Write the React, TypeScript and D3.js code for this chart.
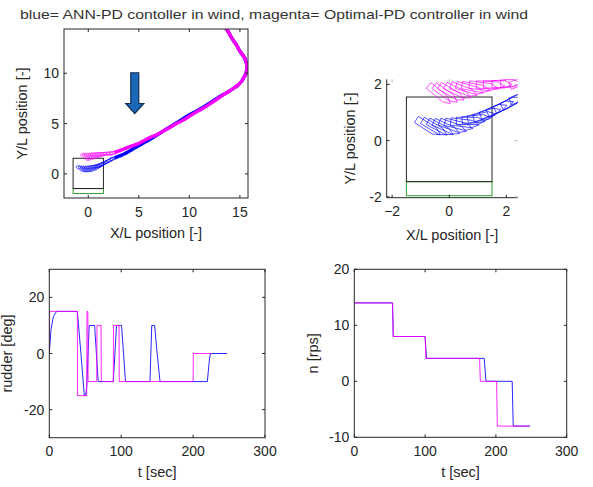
import React from 'react';
import * as d3 from 'd3';

const W = 593;
const H = 487;
const FONT = '"Liberation Sans", Arial, Helvetica, sans-serif';
const INK = '#262626';

const TITLE = 'blue= ANN-PD contoller in wind, magenta= Optimal-PD controller in wind';

// ---- trajectory data (X/L, Y/L) ----
// ship positions near the berth: centre x, centre y, heading [deg]
const blueStartX = [-0.73, -0.51, -0.3, -0.09, 0.13, 0.34, 0.55, 0.75, 0.95, 1.14, 1.33, 1.56, 1.8, 2.05, 2.29];
const blueStartY = [0.48, 0.46, 0.45, 0.46, 0.5, 0.55, 0.62, 0.7, 0.77, 0.85, 0.95, 1.07, 1.18, 1.31, 1.43];
const blueStartHead = [-33, -31, -28, -25, -20, -14, -7, 0, 6, 12, 18, 22, 25, 27, 28];
// remainder of the path
const bluePathX = [2.6, 3.1, 3.6, 4.1, 4.6, 5.1, 5.7, 6.3, 6.9, 7.5, 8.1, 8.7, 9.4, 10.0, 10.7, 11.4, 12.1, 12.7, 13.3, 13.9, 14.5, 15.0, 15.4, 15.65, 15.7, 15.55, 15.3, 15.0, 14.6, 14.2, 13.8, 13.6];
const bluePathY = [1.58, 1.78, 2.0, 2.28, 2.58, 2.86, 3.2, 3.55, 3.92, 4.3, 4.68, 5.05, 5.5, 5.86, 6.25, 6.65, 7.1, 7.48, 7.86, 8.2, 8.6, 9.0, 9.6, 10.2, 10.7, 11.3, 11.8, 12.2, 12.9, 13.5, 14.2, 14.5];

const magStartX = [-0.34, -0.12, 0.09, 0.31, 0.52, 0.73, 0.94, 1.2, 1.45, 1.7, 2.0, 2.3];
const magStartY = [1.64, 1.66, 1.7, 1.74, 1.79, 1.84, 1.88, 1.93, 1.97, 2.0, 2.03, 2.07];
const magStartHead = [-40, -36, -31, -26, -21, -16, -11, -7, -3, 0, 3, 6];
const magPathX = [2.6, 3.1, 3.6, 4.1, 4.6, 5.1, 5.7, 6.3, 6.9, 7.5, 8.1, 8.7, 9.4, 10.0, 10.7, 11.4, 12.1, 12.7, 13.3, 13.9, 14.5, 15.0, 15.4, 15.65, 15.7, 15.55, 15.3, 15.0, 14.6, 14.2, 13.8, 13.6];
const magPathY = [2.12, 2.3, 2.5, 2.7, 2.88, 3.08, 3.4, 3.7, 3.95, 4.3, 4.62, 4.98, 5.35, 5.72, 6.15, 6.55, 7.0, 7.4, 7.82, 8.2, 8.6, 9.0, 9.6, 10.2, 10.7, 11.3, 11.8, 12.2, 12.9, 13.5, 14.2, 14.5];

// berth boxes
const berthX = [-1.5, 1.5];
const berthBlackY = [-1.46, 1.55];
const berthGreenY = [-1.96, -1.46];

// annotation arrow (data units in the overview plot)
const arrowX = 4.6;
const arrowTopY = 10.05;
const arrowTipY = 6.0;

// ---- rudder [deg] ----
const rudBlueT = [0, 2.4, 5.6, 10, 39, 44, 48.7, 50.5, 52, 55.5, 63, 68, 89, 93.5, 100.5, 106, 140, 142.5, 146.5, 150, 154, 219.8, 222, 223.5, 226, 247];
const rudBlueV = [0, 8.6, 13.1, 15, 15, 0, -15, -15, -12, 10, 10, -10, -10, 10, 10, -10, -10, 10, 10, 0, -10, -10, -4, -0.5, 0, 0];
const rudMagT = [0, 0.5, 39, 39.3, 52, 52.4, 53.6, 54, 66, 66.3, 72, 72.3, 89, 89.3, 97, 97.3, 200, 200.3, 226];
const rudMagV = [0, 15, 15, -15, -15, 15, 15, -10, -10, 10, 10, -10, -10, 10, 10, -10, -10, 0, 0];

// ---- propeller n [rps] ----
const nBlueT = [0, 54, 55, 100, 102, 183.5, 186, 223, 224.5, 248];
const nBlueV = [14, 14, 8, 8, 4.1, 4.1, 0, 0, -8, -8];
const nMagT = [0, 54, 55, 100, 101, 177, 178, 201, 202, 248];
const nMagV = [14, 14, 8, 8, 4.1, 4.1, 0, 0, -8, -8];

const BLUE = '#0000ff';
const MAG = '#ff00ff';

type Box = { x0: number; x1: number; y0: number; y1: number };

function Frame({ box, xs, ys, xticks, yticks, full = true }: any) {
  const tl = 3;
  const items: any[] = [];
  const faint = '#bbbbbb';
  xticks.forEach((t: number, i: number) => {
    const x = xs(t);
    items.push(<line key={'xb' + i} x1={x} x2={x} y1={box.y1} y2={box.y1 - tl} stroke={INK} strokeWidth={1} />);
    items.push(<line key={'xt' + i} x1={x} x2={x} y1={box.y0} y2={box.y0 + tl} stroke={full ? INK : faint} strokeWidth={1} />);
    items.push(
      <text key={'xl' + i} x={x} y={box.y1 + 18.5} textAnchor="middle" fontSize={14} fill={INK} fontFamily={FONT}>
        {d3.format('d')(t)}
      </text>
    );
  });
  yticks.forEach((t: number, i: number) => {
    const y = ys(t);
    items.push(<line key={'yl' + i} x1={box.x0} x2={box.x0 + tl} y1={y} y2={y} stroke={INK} strokeWidth={1} />);
    items.push(<line key={'yr' + i} x1={box.x1} x2={box.x1 - tl} y1={y} y2={y} stroke={full ? INK : faint} strokeWidth={1} />);
    items.push(
      <text key={'yt' + i} x={box.x0 - 5} y={y + 5} textAnchor="end" fontSize={14} fill={INK} fontFamily={FONT}>
        {t < 0 ? '-' + Math.abs(t) : String(t)}
      </text>
    );
  });
  return (
    <g>
      {full ? (
        <rect x={box.x0} y={box.y0} width={box.x1 - box.x0} height={box.y1 - box.y0} fill="none" stroke={INK} strokeWidth={1} />
      ) : (
        <path d={`M${box.x0},${box.y0} V${box.y1} H${box.x1}`} fill="none" stroke={INK} strokeWidth={1} />
      )}
      {items}
    </g>
  );
}

const shipShape: [number, number][] = [
  [0.5, 0],
  [0.25, 0.13],
  [-0.5, 0.13],
  [-0.5, -0.13],
  [0.25, -0.13],
];

function shipsFor(sx: number[], sy: number[], sh: number[], px: number[], py: number[]) {
  const pts: { x: number; y: number; h: number }[] = [];
  sx.forEach((x, i) => pts.push({ x, y: sy[i], h: (sh[i] * Math.PI) / 180 }));
  px.forEach((x, i) => {
    const a = i > 0 ? i - 1 : i;
    const b = i < px.length - 1 ? i + 1 : i;
    const h = Math.atan2(py[b] - py[a], px[b] - px[a]);
    pts.push({ x, y: py[i], h });
  });
  return pts;
}

function Trajectory({ xs, ys, sx, sy, sh, px, py, color, lineW, shipW }: any) {
  const ships = shipsFor(sx, sy, sh, px, py);
  const line = d3
    .line<number>()
    .x((_, i) => xs(px[i]))
    .y((_, i) => ys(py[i]))
    .curve(d3.curveCatmullRom);
  return (
    <g>
      <path d={line(px) || ''} fill="none" stroke={color} strokeWidth={lineW} strokeLinejoin="round" />
      {ships.map((s, i) => {
        const c = Math.cos(s.h);
        const n = Math.sin(s.h);
        const pts = shipShape
          .map(([u, v]) => {
            const X = s.x + u * c - v * n;
            const Y = s.y + u * n + v * c;
            return `${xs(X).toFixed(2)},${ys(Y).toFixed(2)}`;
          })
          .join(' ');
        return <polygon key={i} points={pts} fill="none" stroke={color} strokeWidth={shipW} strokeOpacity={0.85} />;
      })}
    </g>
  );
}

function Berth({ xs, ys }: any) {
  return (
    <g>
      <rect
        x={xs(berthX[0])}
        y={ys(berthGreenY[1])}
        width={xs(berthX[1]) - xs(berthX[0])}
        height={ys(berthGreenY[0]) - ys(berthGreenY[1])}
        fill="none"
        stroke="#2ca02c"
        strokeWidth={1}
      />
      <rect
        x={xs(berthX[0])}
        y={ys(berthBlackY[1])}
        width={xs(berthX[1]) - xs(berthX[0])}
        height={ys(berthBlackY[0]) - ys(berthBlackY[1])}
        fill="none"
        stroke={INK}
        strokeWidth={1}
      />
    </g>
  );
}

export default function App() {
  const b1: Box = { x0: 64, x1: 248, y0: 29, y1: 198 };
  const x1 = d3.scaleLinear().domain([-2.4, 15.8]).range([b1.x0, b1.x1]);
  const y1 = d3.scaleLinear().domain([-2.4, 14.4]).range([b1.y1, b1.y0]);

  const b2: Box = { x0: 386.7, x1: 517.7, y0: 79.3, y1: 197.7 };
  const x2 = d3.scaleLinear().domain([-2.19, 2.4]).range([b2.x0, b2.x1]);
  const y2 = d3.scaleLinear().domain([-2.03, 2.18]).range([b2.y1, b2.y0]);

  const b3: Box = { x0: 49.3, x1: 265, y0: 269.3, y1: 437.7 };
  const x3 = d3.scaleLinear().domain([0, 300]).range([b3.x0, b3.x1]);
  const y3 = d3.scaleLinear().domain([-30, 30]).range([b3.y1, b3.y0]);

  const b4: Box = { x0: 354.3, x1: 566.7, y0: 269.3, y1: 437.3 };
  const x4 = d3.scaleLinear().domain([0, 300]).range([b4.x0, b4.x1]);
  const y4 = d3.scaleLinear().domain([-10, 20]).range([b4.y1, b4.y0]);

  const ln = (xs: any, ys: any, T: number[], V: number[]) =>
    d3
      .line<number>()
      .x((t) => xs(t))
      .y((_, i) => ys(V[i]))(T) || '';

  const ax = x1(arrowX);
  const aTop = y1(arrowTopY);
  const aTip = y1(arrowTipY);
  const shaftHalf = 4;
  const headHalf = 9;
  const headLen = 10;
  const arrowD = `M${ax - shaftHalf},${aTop} H${ax + shaftHalf} V${aTip - headLen} H${ax + headHalf} L${ax},${aTip} L${ax - headHalf},${aTip - headLen} H${ax - shaftHalf} Z`;

  const labelStyle = { fontFamily: FONT, fontSize: 14.5, fill: INK } as any;

  return (
    <svg
      width={W}
      height={H}
      viewBox={`0 0 ${W} ${H}`}
      style={{ position: 'absolute', left: 0, top: 0, background: '#fff' }}
    >
      <defs>
        <clipPath id="c1">
          <rect x={b1.x0} y={b1.y0} width={b1.x1 - b1.x0} height={b1.y1 - b1.y0} />
        </clipPath>
        <clipPath id="c2">
          <rect x={b2.x0} y={b2.y0} width={b2.x1 - b2.x0} height={b2.y1 - b2.y0} />
        </clipPath>
        <clipPath id="c3">
          <rect x={b3.x0} y={b3.y0} width={b3.x1 - b3.x0} height={b3.y1 - b3.y0} />
        </clipPath>
        <clipPath id="c4">
          <rect x={b4.x0} y={b4.y0} width={b4.x1 - b4.x0} height={b4.y1 - b4.y0} />
        </clipPath>
      </defs>
      <rect x={0} y={0} width={W} height={H} fill="#fff" />

      <text x={20} y={19} fontSize={13} fill="#333" fontFamily={FONT} textLength={508} lengthAdjust="spacingAndGlyphs">
        {TITLE}
      </text>

      {/* overview trajectory */}
      <g clipPath="url(#c1)">
        <Berth xs={x1} ys={y1} />
        <Trajectory xs={x1} ys={y1} sx={blueStartX} sy={blueStartY} sh={blueStartHead} px={bluePathX} py={bluePathY} color={BLUE} lineW={3} shipW={0.7} />
        <Trajectory xs={x1} ys={y1} sx={magStartX} sy={magStartY} sh={magStartHead} px={magPathX} py={magPathY} color={MAG} lineW={3} shipW={0.7} />
      </g>
      <Frame box={b1} xs={x1} ys={y1} xticks={[0, 5, 10, 15]} yticks={[0, 5, 10]} />
      <path d={arrowD} fill="#1b67b8" stroke="#0f2f55" strokeWidth={1.2} />
      <text x={(b1.x0 + b1.x1) / 2} y={238} textAnchor="middle" {...labelStyle}>X/L position [-]</text>
      <text transform={`translate(27,${(b1.y0 + b1.y1) / 2}) rotate(-90)`} textAnchor="middle" {...labelStyle}>Y/L position [-]</text>

      {/* zoomed trajectory */}
      <g clipPath="url(#c2)">
        <Berth xs={x2} ys={y2} />
        <Trajectory xs={x2} ys={y2} sx={blueStartX} sy={blueStartY} sh={blueStartHead} px={bluePathX} py={bluePathY} color={BLUE} lineW={0.8} shipW={0.8} />
        <Trajectory xs={x2} ys={y2} sx={magStartX} sy={magStartY} sh={magStartHead} px={magPathX} py={magPathY} color={MAG} lineW={0.8} shipW={0.8} />
      </g>
      <Frame box={b2} xs={x2} ys={y2} xticks={[-2, 0, 2]} yticks={[-2, 0, 2]} full={false} />
      <text x={(b2.x0 + b2.x1) / 2} y={240} textAnchor="middle" {...labelStyle}>X/L position [-]</text>
      <text transform={`translate(355,${(b2.y0 + b2.y1) / 2}) rotate(-90)`} textAnchor="middle" {...labelStyle}>Y/L position [-]</text>

      {/* rudder */}
      <g clipPath="url(#c3)">
        <path d={ln(x3, y3, rudBlueT, rudBlueV)} fill="none" stroke={BLUE} strokeWidth={1} strokeOpacity={0.85} />
        <path d={ln(x3, y3, rudMagT, rudMagV)} fill="none" stroke={MAG} strokeWidth={1} strokeOpacity={0.85} />
      </g>
      <Frame box={b3} xs={x3} ys={y3} xticks={[0, 100, 200, 300]} yticks={[-20, 0, 20]} />
      <text x={(b3.x0 + b3.x1) / 2} y={477} textAnchor="middle" {...labelStyle}>t [sec]</text>
      <text transform={`translate(11.5,${(b3.y0 + b3.y1) / 2}) rotate(-90)`} textAnchor="middle" {...labelStyle}>rudder [deg]</text>

      {/* n */}
      <g clipPath="url(#c4)">
        <path d={ln(x4, y4, nBlueT, nBlueV)} fill="none" stroke={BLUE} strokeWidth={1} strokeOpacity={0.85} />
        <path d={ln(x4, y4, nMagT, nMagV)} fill="none" stroke={MAG} strokeWidth={1} strokeOpacity={0.85} />
      </g>
      <Frame box={b4} xs={x4} ys={y4} xticks={[0, 100, 200, 300]} yticks={[-10, 0, 10, 20]} />
      <text x={(b4.x0 + b4.x1) / 2} y={477} textAnchor="middle" {...labelStyle}>t [sec]</text>
      <text transform={`translate(318,${(b4.y0 + b4.y1) / 2}) rotate(-90)`} textAnchor="middle" {...labelStyle}>n [rps]</text>
    </svg>
  );
}
